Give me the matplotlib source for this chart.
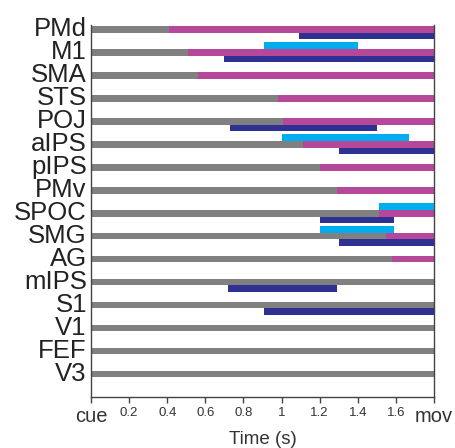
import matplotlib.pyplot as plt
import numpy as np

plt.rcParams['font.family'] = ['Liberation Sans', 'DejaVu Sans']

# regions, top to bottom
regions = ['PMd', 'M1', 'SMA', 'STS', 'POJ', 'aIPS', 'pIPS', 'PMv',
           'SPOC', 'SMG', 'AG', 'mIPS', 'S1', 'V1', 'FEF', 'V3']
# onset of the magenta period (nan = none)
magenta_on = [0.41, 0.51, 0.56, 0.98, 1.01, 1.11, 1.20, 1.29,
              1.51, 1.55, 1.58, np.nan, np.nan, np.nan, np.nan, np.nan]
# dark blue interval (below the main bar)
dark_start = [1.09, 0.70, np.nan, np.nan, 0.73, 1.30, np.nan, np.nan,
              1.20, 1.30, np.nan, 0.72, 0.91, np.nan, np.nan, np.nan]
dark_end = [1.80, 1.80, np.nan, np.nan, 1.50, 1.80, np.nan, np.nan,
            1.59, 1.80, np.nan, 1.29, 1.80, np.nan, np.nan, np.nan]
# light blue interval (above the main bar)
light_start = [np.nan, 0.91, np.nan, np.nan, np.nan, 1.00, np.nan, np.nan,
               1.51, 1.20, np.nan, np.nan, np.nan, np.nan, np.nan, np.nan]
light_end = [np.nan, 1.40, np.nan, np.nan, np.nan, 1.67, np.nan, np.nan,
             1.80, 1.59, np.nan, np.nan, np.nan, np.nan, np.nan, np.nan]

t_end = 1.8
xticks = [0, 0.2, 0.4, 0.6, 0.8, 1.0, 1.2, 1.4, 1.6, 1.8]
xticklabels = ['cue', '0.2', '0.4', '0.6', '0.8', '1', '1.2', '1.4', '1.6', 'mov']

gray = '#808080'
magenta = '#B5489B'
dark = '#2E3192'
light = '#00AEEF'

h = 0.3
y = np.arange(len(regions))
mag_on = np.array(magenta_on)
ds, de = np.array(dark_start), np.array(dark_end)
ls, le = np.array(light_start), np.array(light_end)

fig = plt.figure(figsize=(4.56, 4.48), dpi=100)
ax = fig.add_axes([0.1996, 0.1138, 0.7522, 0.830])

ax.barh(y, t_end, left=0, height=h, color=gray, zorder=2)
ax.barh(y, t_end - mag_on, left=mag_on, height=h, color=magenta, zorder=2)
ax.barh(y + h, de - ds, left=ds, height=h, color=dark, zorder=3)
ax.barh(y - h, le - ls, left=ls, height=h, color=light, zorder=3)

ax.set_xlim(0, t_end)
ax.set_ylim(16, -0.17)
ax.set_yticks(y)
ax.set_yticklabels(regions, fontsize=18.5, color='#222222')
ax.tick_params(axis='y', length=0, pad=3)
for lab in ax.get_yticklabels():
    lab.set_verticalalignment('center')

ax.set_xticks(xticks)
ax.set_xticklabels(xticklabels, fontsize=9.5, color='#333333')
ax.get_xticklabels()[0].set_fontsize(14.5)
ax.get_xticklabels()[-1].set_fontsize(14.5)
ax.tick_params(axis='x', length=4, width=1, color='#444444', pad=3)
ax.set_xlabel('Time (s)', fontsize=13.5, color='#333333', labelpad=4)

for s in ['left', 'right', 'bottom']:
    ax.spines[s].set_color('#444444')
    ax.spines[s].set_linewidth(1)
ax.spines['top'].set_visible(False)

fig.savefig('out.png', dpi=100)
